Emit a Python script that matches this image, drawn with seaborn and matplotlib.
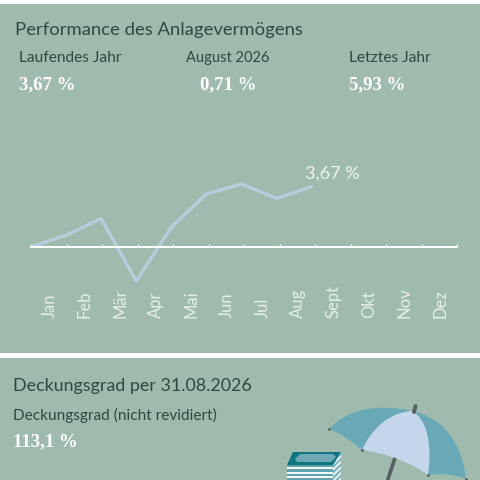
import pandas as pd
import matplotlib
matplotlib.use("Agg")
import matplotlib.pyplot as plt
import seaborn as sns
from matplotlib.patches import PathPatch, Polygon, Rectangle
from matplotlib.path import Path

# Data
months = ["Jan", "Feb", "Mär", "Apr", "Mai", "Jun", "Jul", "Aug", "Sept", "Okt", "Nov", "Dez"]
periods = [0, 1, 2, 3, 4, 5, 6, 7, 8]
performance = [0, 0.70, 1.72, -2.10, 1.19, 3.22, 3.83, 2.96, 3.67]
head_labels = ["Laufendes Jahr", "August 2026", "Letztes Jahr"]
head_values = ["3,67 %", "0,71 %", "5,93 %"]

BG = "#9FBBAD"
DARK = "#2E4A40"
PALE = "#E6F0E9"
LINE = "#B7CDDD"
TEAL = "#69A8B7"
SANS = "Lato"
SERIF = "Liberation Serif"

sns.set_theme(style="white")
plt.rcParams["font.family"] = [SANS, "DejaVu Sans"]

fig = plt.figure(figsize=(4.8, 4.8), dpi=100, facecolor="white")

# Background layer in pixel coords
bg = fig.add_axes([0, 0, 1, 1], zorder=0)
bg.set_xlim(0, 480)
bg.set_ylim(480, 0)
bg.axis("off")
bg.add_patch(Rectangle((0, 4), 480, 349, color=BG, lw=0))
bg.add_patch(Rectangle((0, 358), 480, 122, color=BG, lw=0))

# Text
bg.text(15, 29.5, "Performance des Anlagevermögens", fontsize=13.3, color=DARK, va="center")
for x, t, size in zip([19, 185.5, 349], head_labels, [11.2, 10.5, 11.2]):
    bg.text(x, 58, t, fontsize=size, color=DARK, va="center")
for x, t in zip([19, 200, 349], head_values):
    bg.text(x, 85, t, fontsize=13.5, color="white", va="center", family=SERIF, weight="bold")
bg.text(13, 386, "Deckungsgrad per 31.08.2026", fontsize=12.9, color=DARK, va="center")
bg.text(13, 415, "Deckungsgrad (nicht revidiert)", fontsize=11.1, color=DARK, va="center")
bg.text(13, 442, "113,1 %", fontsize=13.5, color="white", va="center", family=SERIF, weight="bold")

# Money stack
bg.add_patch(Rectangle((287, 465), 46, 15, color="#5FA3AE", lw=0))
for y in [467, 471.5, 476]:
    bg.add_patch(Rectangle((287, y), 46, 2, color="#F2F7F6", lw=0))
bg.add_patch(Polygon([[333, 465], [341, 452], [341, 480], [333, 480]], fc="#DCEBEA", ec="#5FA3AE",
                     hatch="//////", lw=0))
bg.add_patch(Polygon([[287, 465], [293, 452], [341, 452], [333, 465]], color="#0F7482", lw=0))
bg.add_patch(Polygon([[297, 462], [295, 459], [300, 454], [333, 454], [336, 457], [331, 462]], color="#6FA9B6", lw=0))

# Umbrella
bg.plot([395, 387], [458, 482], color="#55605E", lw=2.6, solid_capstyle="butt")
bg.plot([415.5, 414], [406, 412], color="#55605E", lw=2.8, solid_capstyle="round")
M, C3, C4, L, Z = Path.MOVETO, Path.CURVE3, Path.CURVE4, Path.LINETO, Path.CLOSEPOLY
left = Path([(329, 429), (345, 412), (372, 402), (412, 411), (362, 450), (345, 435), (329, 429), (329, 429)],
            [M, C4, C4, C4, L, C3, C3, Z])
right = Path([(412, 411), (445, 418), (462, 445), (466, 479), (447, 472), (428, 475), (428, 475)],
             [M, C4, C4, C4, C3, C3, Z])
mid = Path([(412, 411), (390, 412), (372, 428), (362, 450), (385, 453), (410, 462), (428, 475),
            (432, 445), (428, 420), (412, 411), (412, 411)],
           [M, C4, C4, C4, C4, C4, C4, C4, C4, C4, Z])
bg.add_patch(PathPatch(left, fc=TEAL, lw=0))
bg.add_patch(PathPatch(right, fc=TEAL, lw=0))
bg.add_patch(PathPatch(mid, fc="#C3D6EC", lw=0))
for x, y in [(329, 429), (362, 450), (428, 475), (466, 479)]:
    bg.plot(x, y, "o", ms=2, color="#55605E", mew=0)

# Line chart
df = pd.DataFrame({"period": periods, "performance": performance})
span = 12.15
step = span / len(months)
ax = fig.add_axes([31 / 480, 1 - 318 / 480, 426.3 / 480, 148 / 480], zorder=1)
ax.patch.set_alpha(0)
sns.lineplot(data=df, x="period", y="performance", color=LINE, linewidth=2.4, ax=ax, clip_on=False, zorder=2)
ax.set_xlim(0, span)
ax.set_ylim(-4.36, 4.69)
ax.set_xlabel("")
ax.set_ylabel("")
ax.set_yticks([])
sns.despine(ax=ax, left=True)
ax.spines["bottom"].set_position(("data", 0))
ax.spines["bottom"].set_color("white")
ax.spines["bottom"].set_linewidth(1.4)
ax.set_xticks([i * step for i in range(len(months) + 1)])
ax.set_xticklabels([])
ax.tick_params(axis="x", direction="in", length=2.2, width=0.8, color="white", bottom=True)
for i, m in enumerate(months):
    ax.text((i + 0.5) * step + 0.02, 0, m, transform=ax.get_xaxis_transform(), rotation=90, ha="center", va="bottom",
            fontsize=12, color=PALE)
ax.annotate("3,67 %", (periods[-1], performance[-1]), xytext=(-4.5, 4), textcoords="offset points",
            fontsize=13, color="#EEF4EF", va="bottom")

fig.savefig("out.png", dpi=100, facecolor="white")
